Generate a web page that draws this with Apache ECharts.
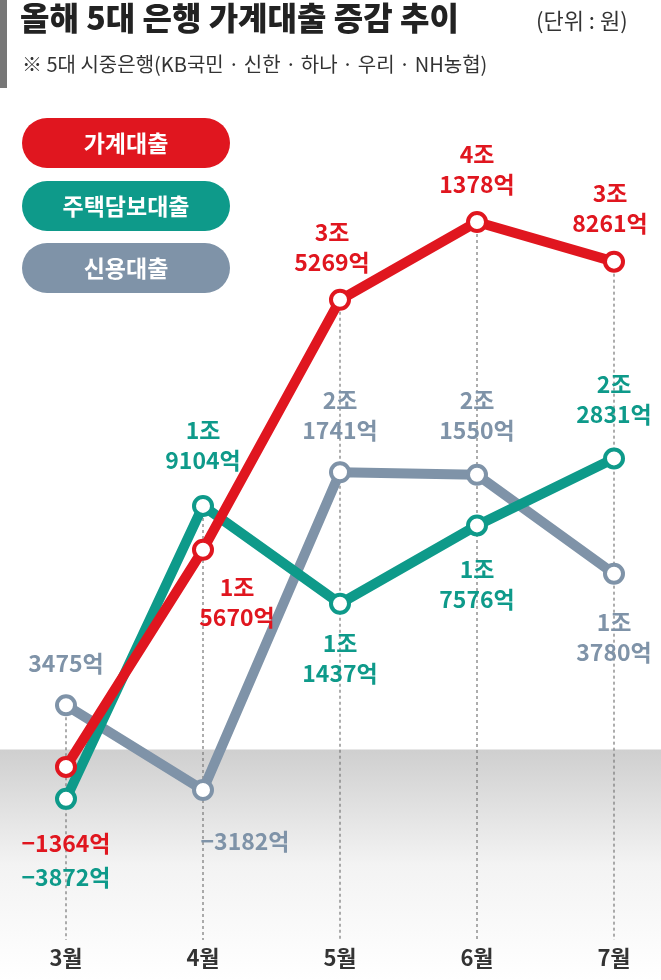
<!DOCTYPE html>
<html><head><meta charset="utf-8">
<script src="https://cdn.jsdelivr.net/npm/echarts@6/dist/echarts.min.js"></script>
<style>body{margin:0;background:#fff}#c{width:661px;height:980px}</style></head>
<body><div id="c"></div>
<script>
const months=['3월','4월','5월','6월','7월'];
const household=[-1364,15670,35269,41378,38261];
const mortgage=[-3872,19104,11437,17576,22831];
const credit=[3475,-3182,21741,21550,13780];
const householdLabels=['−1364억','1조\n5670억','3조\n5269억','4조\n1378억','3조\n8261억'];
const mortgageLabels=['−3872억','1조\n9104억','1조\n1437억','1조\n7576억','2조\n2831억'];
const creditLabels=['3475억','−3182억','2조\n1741억','2조\n1550억','1조\n3780억'];
const seriesNames=['가계대출','주택담보대출','신용대출'];
const RED='#e0161f',TEAL='#0e9a8a',SLATE='#7f93a8';
const font='"Noto Sans CJK KR","Noto Sans",sans-serif';
const chart=echarts.init(document.getElementById('c'));
function mk(vals,labels,color,cfg){
  return vals.map((v,i)=>({value:v,label:Object.assign({formatter:labels[i]},cfg[i])}));
}
const lab={show:true,fontFamily:font,fontWeight:'bold',fontSize:23,lineHeight:30,align:'center'};
const hCfg=[{position:'bottom',distance:50},{position:'bottom',distance:12,offset:[34,0]},{position:'top',distance:12,offset:[-8,0]},{position:'top',distance:12},{position:'top',distance:12,offset:[-4,0]}];
const mCfg=[{position:'bottom',distance:52},{position:'top',distance:20},{position:'bottom',distance:14},{position:'bottom',distance:18},{position:'top',distance:18}];
const cCfg=[{position:'top',distance:16},{position:'bottom',distance:25,offset:[42,0]},{position:'top',distance:16},{position:'top',distance:18},{position:'bottom',distance:22}];
function ser(name,vals,labels,color,cfg,z){
  return {name,type:'line',data:mk(vals,labels,color,cfg),z,symbol:'circle',symbolSize:18,
    lineStyle:{width:10,color},itemStyle:{color:'#fff',borderColor:color,borderWidth:4},
    label:Object.assign({},lab,{color}),emphasis:{disabled:true}};
}
chart.setOption({
  animation:false,
  grid:{left:66,right:47,top:112,bottom:103},
  xAxis:{type:'category',data:months,boundaryGap:false,axisLine:{show:false},axisTick:{show:false},
    axisLabel:{margin:70,fontFamily:font,fontSize:22,fontWeight:'bold',color:'#333'}},
  yAxis:{type:'value',min:-10000,max:50000,show:false,splitLine:{show:false}},
  series:[ser(seriesNames[2],credit,creditLabels,SLATE,cCfg,3),ser(seriesNames[1],mortgage,mortgageLabels,TEAL,mCfg,4),ser(seriesNames[0],household,householdLabels,RED,hCfg,5)]
});
const y0=chart.convertToPixel({yAxisIndex:0},0);
const g=[{type:'rect',z:-10,shape:{x:0,y:y0,width:661,height:980-y0},style:{fill:new echarts.graphic.LinearGradient(0,0,0,1,[{offset:0,color:'#cfcfcf'},{offset:0.5,color:'#f3f3f3'},{offset:1,color:'#ffffff'}])}}];
months.forEach((m,i)=>{
  const mx=Math.max(household[i],mortgage[i],credit[i]);
  const p=chart.convertToPixel({xAxisIndex:0,yAxisIndex:0},[i,mx]);
  g.push({type:'line',z:-5,shape:{x1:p[0],y1:p[1],x2:p[0],y2:940},style:{stroke:'#777',lineWidth:1.2,lineDash:[3,3]}});
});
g.push({type:'rect',shape:{x:0,y:0,width:7,height:88},style:{fill:'#777'}});
g.push({type:'text',left:20,top:2,style:{text:'올해 5대 은행 가계대출 증감 추이',font:'900 32px '+font,fill:'#222'}});
g.push({type:'text',left:536,top:10,style:{text:'(단위 : 원)',font:'22px '+font,fill:'#333'}});
g.push({type:'text',left:22,top:54,style:{text:'※ 5대 시중은행(KB국민 · 신한 · 하나 · 우리 · NH농협)',font:'20px '+font,fill:'#333'}});
[[RED,118],[TEAL,181],[SLATE,243]].forEach((c,i)=>{
  g.push({type:'rect',shape:{x:22,y:c[1],width:208,height:50,r:25},style:{fill:c[0]}});
  g.push({type:'text',x:126,y:c[1]+25,style:{text:seriesNames[i],font:'bold 23px '+font,fill:'#fff',align:'center',verticalAlign:'middle'}});
});
chart.setOption({graphic:g});
</script></body></html>
